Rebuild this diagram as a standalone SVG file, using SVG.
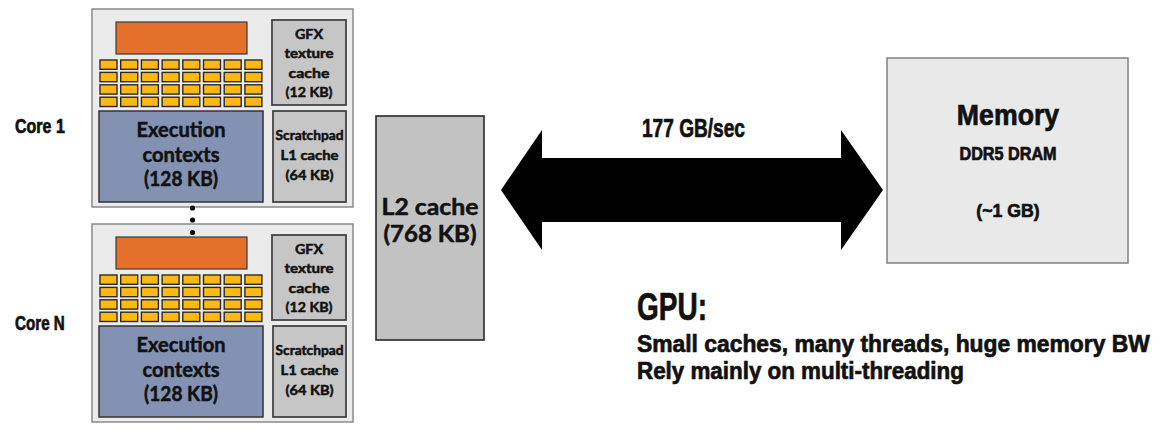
<svg xmlns="http://www.w3.org/2000/svg" width="1167" height="431" viewBox="0 0 1167 431">
<style>
.outer{fill:#ebebeb;stroke:#8a8a8a;stroke-width:1.5}
.orange{fill:#e4702b;stroke:#3a3a3a;stroke-width:1.2}
.cell{fill:#fdb813;stroke:#2a2a2a;stroke-width:1.4}
.exec{fill:#8391b3;stroke:#333;stroke-width:1.5}
.gbox{fill:#c6c6c6;stroke:#444;stroke-width:1.8}
.l2{fill:#c2c2c2;stroke:#2a2a2a;stroke-width:1.6}
.mem{fill:#e9e9e9;stroke:#808080;stroke-width:1.5}
.bt{font-family:Lato,"Open Sans","Liberation Sans",sans-serif;font-weight:700;fill:#111;text-anchor:middle;stroke:#111;stroke-width:0.5}
.ct{font-family:"Liberation Sans",Arial,sans-serif;font-weight:700;fill:#111;stroke:#111;stroke-width:0.7}
</style>
<defs>
<g id="cells">
<g id="row">
<rect class="cell" x="100" y="60" width="17" height="9.3"/>
<rect class="cell" x="120.7" y="60" width="17" height="9.3"/>
<rect class="cell" x="141.4" y="60" width="17" height="9.3"/>
<rect class="cell" x="162.1" y="60" width="17" height="9.3"/>
<rect class="cell" x="182.8" y="60" width="17" height="9.3"/>
<rect class="cell" x="203.5" y="60" width="17" height="9.3"/>
<rect class="cell" x="224.2" y="60" width="17" height="9.3"/>
<rect class="cell" x="244.9" y="60" width="17" height="9.3"/>
</g>
<use href="#row" y="12.4"/>
<use href="#row" y="24.8"/>
<use href="#row" y="37.2"/>
</g>
</defs>

<text class="ct" transform="translate(15,133) scale(0.8,1)" font-size="20" stroke-width="0.7">Core 1</text>
<text class="ct" transform="translate(15,330) scale(0.76,1)" font-size="20" stroke-width="0.7">Core N</text>

<g id="core1">
<rect class="outer" x="92" y="9" width="261" height="198"/>
<rect class="orange" x="116" y="22" width="131" height="32"/>
<use href="#cells"/>
<rect class="exec" x="99" y="111" width="164" height="91"/>
<text class="bt" font-size="20"><tspan x="181" y="137" textLength="89" lengthAdjust="spacingAndGlyphs">Execution</tspan><tspan x="181" y="162" textLength="77" lengthAdjust="spacingAndGlyphs">contexts</tspan><tspan x="181" y="186" textLength="74" lengthAdjust="spacingAndGlyphs">(128 KB)</tspan></text>
<rect class="gbox" x="272" y="20" width="74" height="85"/>
<text class="bt" font-size="13.5" stroke-width="0.3"><tspan x="309" y="39" textLength="28" lengthAdjust="spacingAndGlyphs">GFX</tspan><tspan x="309" y="58" textLength="49" lengthAdjust="spacingAndGlyphs">texture</tspan><tspan x="309" y="78" textLength="41" lengthAdjust="spacingAndGlyphs">cache</tspan><tspan x="309" y="97" textLength="47" lengthAdjust="spacingAndGlyphs">(12 KB)</tspan></text>
<rect class="gbox" x="273" y="111" width="73" height="91"/>
<text class="bt" font-size="13" stroke-width="0.3"><tspan x="309.5" y="140" textLength="68" lengthAdjust="spacingAndGlyphs">Scratchpad</tspan><tspan x="309.5" y="160" textLength="58" lengthAdjust="spacingAndGlyphs">L1 cache</tspan><tspan x="309.5" y="180" textLength="48" lengthAdjust="spacingAndGlyphs">(64 KB)</tspan></text>
</g>

<g id="coreN" transform="translate(0,215)">
<rect class="outer" x="92" y="9" width="261" height="198"/>
<rect class="orange" x="116" y="22" width="131" height="32"/>
<use href="#cells"/>
<rect class="exec" x="99" y="111" width="164" height="91"/>
<text class="bt" font-size="20"><tspan x="181" y="137" textLength="89" lengthAdjust="spacingAndGlyphs">Execution</tspan><tspan x="181" y="162" textLength="77" lengthAdjust="spacingAndGlyphs">contexts</tspan><tspan x="181" y="186" textLength="74" lengthAdjust="spacingAndGlyphs">(128 KB)</tspan></text>
<rect class="gbox" x="272" y="20" width="74" height="85"/>
<text class="bt" font-size="13.5" stroke-width="0.3"><tspan x="309" y="39" textLength="28" lengthAdjust="spacingAndGlyphs">GFX</tspan><tspan x="309" y="58" textLength="49" lengthAdjust="spacingAndGlyphs">texture</tspan><tspan x="309" y="78" textLength="41" lengthAdjust="spacingAndGlyphs">cache</tspan><tspan x="309" y="97" textLength="47" lengthAdjust="spacingAndGlyphs">(12 KB)</tspan></text>
<rect class="gbox" x="273" y="111" width="73" height="91"/>
<text class="bt" font-size="13" stroke-width="0.3"><tspan x="309.5" y="140" textLength="68" lengthAdjust="spacingAndGlyphs">Scratchpad</tspan><tspan x="309.5" y="160" textLength="58" lengthAdjust="spacingAndGlyphs">L1 cache</tspan><tspan x="309.5" y="180" textLength="48" lengthAdjust="spacingAndGlyphs">(64 KB)</tspan></text>
</g>

<g id="l2">
<rect class="l2" x="376" y="116" width="108" height="224"/>
<text class="bt" font-size="22"><tspan x="430" y="215" textLength="97" lengthAdjust="spacingAndGlyphs">L2 cache</tspan><tspan x="430" y="242" textLength="93" lengthAdjust="spacingAndGlyphs">(768 KB)</tspan></text>
</g>

<g id="memory">
<rect class="mem" x="887" y="58" width="241" height="205"/>
<text class="ct" transform="translate(1008,125) scale(0.92,1)" font-size="29" text-anchor="middle" stroke-width="1">Memory</text>
<text class="ct" transform="translate(1008,160) scale(0.9,1)" font-size="18" text-anchor="middle" stroke-width="0.6">DDR5 DRAM</text>
<text class="ct" transform="translate(1008,217) scale(0.93,1)" font-size="19" text-anchor="middle" stroke-width="0.6">(~1 GB)</text>
</g>

<g id="connectors">
<circle cx="192.5" cy="208" r="2.6" fill="#000"/>
<circle cx="192.5" cy="220" r="2.6" fill="#000"/>
<circle cx="192.5" cy="232.5" r="2.6" fill="#000"/>
<polygon points="501,190 542,130 542,158 841,158 841,130 883,190 841,250 841,222 542,222 542,250" fill="#000"/>
<text class="ct" transform="translate(642,137) scale(0.764,1)" font-size="25" stroke-width="1">177 GB/sec</text>
</g>

<g id="notes">
<text class="ct" transform="translate(637,320) scale(0.737,1)" font-size="38" stroke-width="1.5">GPU:</text>
<text class="ct" transform="translate(637,352) scale(0.952,1)" font-size="24" stroke-width="1">Small caches, many threads, huge memory BW</text>
<text class="ct" transform="translate(637,379) scale(0.933,1)" font-size="24" stroke-width="1">Rely mainly on multi-threading</text>
</g>
</svg>
